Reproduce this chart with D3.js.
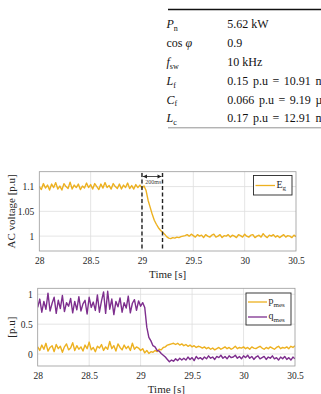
<!DOCTYPE html>
<html><head><meta charset="utf-8">
<script src="https://cdn.jsdelivr.net/npm/d3@7/dist/d3.min.js"></script>
<style>body{margin:0;background:#fff}svg{display:block}text{font-family:"Liberation Serif","Times New Roman",serif}</style>
</head><body><svg id="c" width="321" height="394"></svg>
<script>
// ---------- data ----------
const t0 = 28, dt = 0.02;
const Eg = [
1.100,1.094,1.106,1.097,1.103,1.093,1.105,1.098,1.108,1.095,
1.101,1.093,1.106,1.100,1.096,1.109,1.095,1.103,1.098,1.105,
1.094,1.101,1.097,1.107,1.098,1.104,1.095,1.106,1.100,1.094,
1.105,1.097,1.108,1.098,1.102,1.095,1.106,1.100,1.096,1.105,
1.095,1.103,1.098,1.107,1.096,1.102,1.095,1.104,1.098,1.103,
1.097,1.101,1.092,1.072,1.058,1.044,1.032,1.024,1.017,1.012,
1.008,1.004,0.999,0.996,0.995,0.997,0.996,0.998,0.997,0.999,
1.000,1.001,1.003,1.000,1.004,1.001,0.998,1.003,1.000,1.002,
0.997,1.003,1.000,0.998,1.002,1.004,0.998,1.000,1.003,0.997,
1.001,1.000,1.003,0.998,1.002,1.000,0.997,1.003,1.001,0.998,
1.004,1.000,0.998,1.002,1.003,0.997,1.000,1.002,0.998,1.005,
1.000,0.997,1.002,1.000,1.003,0.998,1.001,0.997,1.000,1.003,
0.998,1.001,1.000,0.997,1.002,0.999];
const qmes = [
0.78,0.92,0.70,0.88,0.75,1.02,0.72,0.85,0.95,0.68,
0.90,0.76,0.98,0.71,0.86,0.80,0.93,0.69,0.88,0.74,
0.96,0.72,0.84,0.90,0.67,0.95,0.78,0.87,0.73,0.99,
0.70,0.89,1.04,0.68,1.05,0.75,0.92,0.66,0.88,0.79,
0.94,0.70,0.86,0.77,0.97,0.69,0.85,0.91,0.73,0.89,
0.80,0.86,0.78,0.45,0.28,0.22,0.14,0.12,0.06,0.05,
0.01,-0.02,-0.05,-0.09,-0.13,-0.10,-0.12,-0.08,-0.11,-0.07,
-0.10,-0.07,-0.10,-0.05,-0.09,-0.06,-0.11,-0.04,-0.08,-0.06,
-0.09,-0.05,-0.08,-0.03,-0.07,-0.05,-0.09,-0.04,-0.06,-0.02,
-0.07,-0.04,-0.08,-0.03,-0.06,-0.05,-0.02,-0.07,-0.04,-0.08,
-0.03,-0.06,-0.02,-0.07,-0.04,-0.09,-0.05,-0.03,-0.08,-0.06,
-0.04,-0.09,-0.05,-0.07,-0.03,-0.08,-0.06,-0.10,-0.05,-0.08,
-0.04,-0.09,-0.06,-0.10,-0.05,-0.08];
const pmes = [
0.12,0.06,0.15,0.08,0.18,0.05,0.11,0.14,0.04,0.16,
0.09,0.13,0.03,0.12,0.17,0.07,0.10,0.19,0.06,0.14,
0.08,0.12,0.05,0.15,0.09,0.20,0.07,0.11,0.04,0.13,
0.10,0.16,0.06,0.12,0.08,0.21,0.09,0.14,0.05,0.17,
0.11,0.07,0.15,0.09,0.13,0.06,0.18,0.08,0.12,0.10,
0.06,0.09,0.02,0.06,0.01,0.04,0.03,0.06,0.04,0.08,
0.07,0.11,0.12,0.15,0.16,0.17,0.18,0.16,0.18,0.15,
0.17,0.14,0.16,0.13,0.15,0.12,0.14,0.11,0.13,0.12,
0.10,0.12,0.09,0.11,0.08,0.10,0.07,0.09,0.11,0.08,
0.10,0.12,0.09,0.11,0.08,0.10,0.13,0.09,0.11,0.10,
0.12,0.09,0.11,0.08,0.12,0.10,0.09,0.11,0.13,0.10,
0.08,0.11,0.09,0.12,0.10,0.08,0.11,0.13,0.09,0.11,
0.10,0.12,0.09,0.13,0.11,0.14];
const xTicks = [28, 28.5, 29, 29.5, 30, 30.5];
const yTicksTop = [1, 1.05, 1.1];
const yTicksBot = [0, 0.5, 1];
const markers = [29.0, 29.2];
const tableRows = [
  {sym:"P", sub:"n", val:"5.62 kW"},
  {sym:"cos", phi:true, val:"0.9"},
  {sym:"f", sub:"sw", val:"10 kHz"},
  {sym:"L", sub:"f", val:"0.15 p.u = 10.91 mH"},
  {sym:"C", sub:"f", val:"0.066 p.u = 9.19 µF"},
  {sym:"L", sub:"c", val:"0.17 p.u = 12.91 mH"}
];
const C_ORANGE = "#EDB120", C_PURPLE = "#7E2F8E";

// ---------- drawing ----------
const svg = d3.select("#c");
const time = i => t0 + i * dt;

// table
const tg = svg.append("g");
tg.append("line").attr("x1",168).attr("x2",321).attr("y1",9.5).attr("y2",9.5).attr("stroke","#111").attr("stroke-width",1.4);
tg.append("line").attr("x1",168).attr("x2",321).attr("y1",127.8).attr("y2",127.8).attr("stroke","#777").attr("stroke-width",0.8);
const rowY = d3.scalePoint().domain(d3.range(tableRows.length)).range([28.3, 122.3]);
tableRows.forEach((r,i)=>{
  const y = rowY(i);
  const tx = tg.append("text").attr("x",166.5).attr("y",y).attr("font-size",12).attr("fill","#111");
  if (r.phi) {
    tx.append("tspan").text("cos ");
    tx.append("tspan").attr("font-style","italic").text("φ");
  } else {
    tx.append("tspan").attr("font-style","italic").text(r.sym);
    tx.append("tspan").attr("font-size",8).attr("dy",2.8).text(r.sub);
  }
  tg.append("text").attr("x",227.3).attr("y",y).attr("font-size",12).attr("fill","#111")
    .attr("word-spacing", r.val.includes("=") ? 1.6 : 0).text(r.val);
});

function panel(cfg){
  const g = svg.append("g");
  const x = d3.scaleLinear().domain([28,30.5]).range([cfg.x0,cfg.x1]);
  const y = d3.scaleLinear().domain(cfg.ydom).range([cfg.y1,cfg.y0]);
  // grid
  g.append("g").selectAll("line").data(xTicks.slice(1,-1)).join("line")
    .attr("x1",d=>x(d)).attr("x2",d=>x(d)).attr("y1",cfg.y0).attr("y2",cfg.y1)
    .attr("stroke","#dedede").attr("stroke-width",0.8);
  g.append("g").selectAll("line").data(cfg.yticks).join("line")
    .attr("x1",cfg.x0).attr("x2",cfg.x1).attr("y1",d=>y(d)).attr("y2",d=>y(d))
    .attr("stroke","#dedede").attr("stroke-width",0.8);
  // axes
  const ax = g.append("g").attr("transform",`translate(0,${cfg.y1})`)
    .call(d3.axisBottom(x).tickValues(xTicks).tickSize(0).tickPadding(6).tickFormat(d3.format("")));
  const ay = g.append("g").attr("transform",`translate(${cfg.x0},0)`)
    .call(d3.axisLeft(y).tickValues(cfg.yticks).tickSize(0).tickPadding(5).tickFormat(d=>String(d)));
  [ax,ay].forEach(a=>{a.select(".domain").remove(); a.selectAll("text").attr("font-family","Liberation Serif").attr("font-size",9.5).attr("fill","#262626");});
  // series
  const clip = "clip"+cfg.id;
  g.append("clipPath").attr("id",clip).append("rect").attr("x",cfg.x0).attr("y",cfg.y0).attr("width",cfg.x1-cfg.x0).attr("height",cfg.y1-cfg.y0);
  const line = d3.line().x((d,i)=>x(time(i))).y(d=>y(d));
  cfg.series.forEach(s=>{
    g.append("path").attr("d",line(s.data)).attr("fill","none").attr("stroke",s.color).attr("stroke-width",1.4).attr("stroke-linejoin","round").attr("clip-path",`url(#${clip})`);
  });
  // box
  g.append("rect").attr("x",cfg.x0).attr("y",cfg.y0).attr("width",cfg.x1-cfg.x0).attr("height",cfg.y1-cfg.y0)
    .attr("fill","none").attr("stroke","#9a9a9a").attr("stroke-width",0.8);
  // labels
  g.append("text").attr("x",(cfg.x0+cfg.x1)/2).attr("y",cfg.y1+27).attr("text-anchor","middle").attr("font-size",11).attr("fill","#262626").text("Time [s]");
  g.append("text").attr("transform",`translate(${cfg.ylx},${(cfg.y0+cfg.y1)/2}) rotate(-90)`).attr("text-anchor","middle").attr("font-size",11).attr("fill","#262626").text(cfg.ylabel);
  // legend
  const L = cfg.legend;
  g.append("rect").attr("x",L.x).attr("y",L.y).attr("width",L.w).attr("height",L.h).attr("fill","#fff").attr("stroke","#262626").attr("stroke-width",0.9);
  cfg.series.forEach((s,i)=>{
    const yy = L.y + L.pad + i*L.step;
    g.append("line").attr("x1",L.x+2).attr("x2",L.x+L.lw).attr("y1",yy).attr("y2",yy).attr("stroke",s.color).attr("stroke-width",1.3);
    const tt = g.append("text").attr("x",L.x+L.lw+1.5).attr("y",yy+2.2).attr("font-size",10).attr("fill","#262626");
    tt.append("tspan").text(s.name);
    tt.append("tspan").attr("font-size",7).attr("dy",2.5).text(s.sub);
  });
  return {g,x,y};
}

const panelA = panel({id:"a", x0:39.3, x1:296, y0:171.7, y1:251, ydom:[0.97,1.13], yticks:yTicksTop,
  ylabel:"AC voltage [p.u]", ylx:15,
  series:[{data:Eg,color:C_ORANGE,name:"E",sub:"g"}],
  legend:{x:253.5,y:175.5,w:38.5,h:19.5,pad:10,step:14,lw:21.5}});

// markers
const mg = panelA.g.append("g");
markers.forEach(m=>{
  mg.append("line").attr("x1",panelA.x(m)).attr("x2",panelA.x(m)).attr("y1",173).attr("y2",251)
    .attr("stroke","#222").attr("stroke-width",1.4).attr("stroke-dasharray","4,2.5");
});
const ay0 = 176.5, xa = panelA.x(markers[0]), xb = panelA.x(markers[1]);
mg.append("line").attr("x1",xa+1).attr("x2",xb-1).attr("y1",ay0).attr("y2",ay0).attr("stroke","#222").attr("stroke-width",0.8);
mg.append("path").attr("d",`M${xa+1},${ay0}l4,-2l0,4z M${xb-1},${ay0}l-4,-2l0,4z`).attr("fill","#222");
mg.append("text").attr("x",(xa+xb)/2+1).attr("y",184).attr("text-anchor","middle").attr("font-size",6).attr("fill","#444").text("200ms");

panel({id:"b", x0:37.7, x1:295, y0:288.3, y1:366, ydom:[-0.2,1.1], yticks:yTicksBot,
  ylabel:"[p.u]", ylx:15,
  series:[{data:pmes,color:C_ORANGE,name:"p",sub:"mes"},{data:qmes,color:C_PURPLE,name:"q",sub:"mes"}],
  legend:{x:246,y:293,w:45,h:32,pad:9,step:15,lw:21}});
</script></body></html>
